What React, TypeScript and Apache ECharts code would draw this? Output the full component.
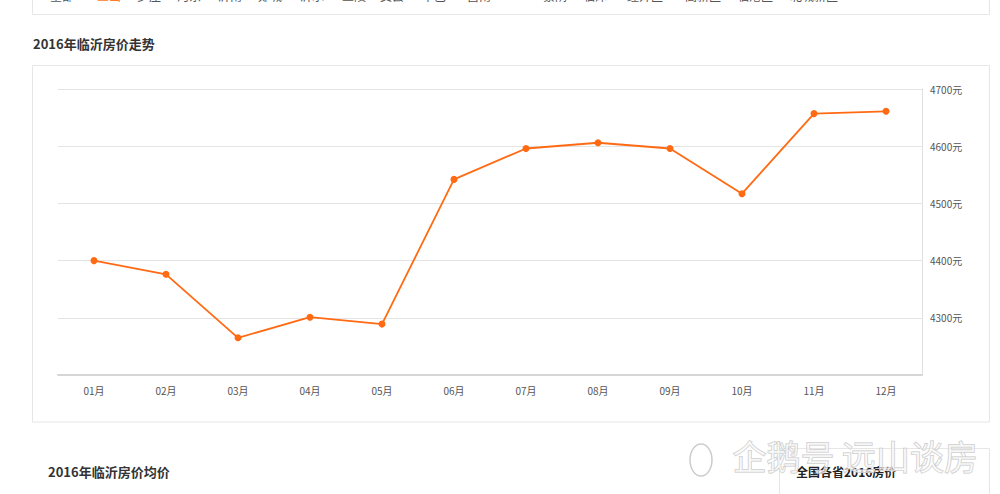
import React, { useEffect, useRef } from "react";
import * as echarts from "echarts";

const months = ["01月", "02月", "03月", "04月", "05月", "06月", "07月", "08月", "09月", "10月", "11月", "12月"];
const prices = [4400, 4376, 4265, 4301, 4289, 4542, 4596, 4606, 4596, 4517, 4657, 4661];
const yMin = 4200;
const yMax = 4700;
const yStep = 100;
const chartTitle = "2016年临沂房价走势";
const bottomTitle = "2016年临沂房价均价";
const sideTitle = "全国各省2016房价";
const watermark = "企鹅号 远山谈房";
const districts = ["全部", "兰山", "罗庄", "河东", "沂南", "郯城", "沂水", "兰陵", "费县", "平邑", "莒南", "蒙阴", "临沭", "经开区", "高新区", "临港区", "北城新区"];
const districtX = [50, 97, 137, 177, 218, 258, 300, 342, 380, 422, 467, 543, 583, 627, 685, 737, 790];

export default function App() {
  const ref = useRef<HTMLDivElement>(null);
  useEffect(() => {
    if (!ref.current) return;
    const chart = echarts.init(ref.current, null, { renderer: "svg" });
    const districtTexts = districts.map((d, i) => ({
      type: "text",
      left: districtX[i],
      top: -11,
      silent: true,
      style: {
        text: d,
        fontSize: 12,
        fill: i === 1 ? "#ff7a2a" : "#555",
        fontFamily: "Noto Sans CJK SC",
      },
    }));
    chart.setOption({
      animation: false,
      backgroundColor: "#ffffff",
      graphic: [
        {
          type: "rect",
          shape: { x: 32.5, y: -20, width: 957, height: 34.5 },
          style: { fill: "#fff", stroke: "#e6e6e6", lineWidth: 1 },
          silent: true,
        },
        ...districtTexts,
        {
          type: "text",
          left: 33,
          top: 37,
          style: { text: chartTitle, fontSize: 13, fontWeight: "bold", fill: "#333", fontFamily: "Noto Sans CJK SC" },
        },
        {
          type: "rect",
          z: -10,
          shape: { x: 32.5, y: 65.5, width: 957, height: 356.5 },
          style: { fill: "#fff", stroke: "#e6e6e6", lineWidth: 1 },
          silent: true,
        },
        {
          type: "text",
          left: 48,
          top: 465,
          style: { text: bottomTitle, fontSize: 13, fontWeight: "bold", fill: "#333", fontFamily: "Noto Sans CJK SC" },
        },
        {
          type: "rect",
          shape: { x: 779.5, y: 448.5, width: 210, height: 60 },
          style: { fill: "#fff", stroke: "#e6e6e6", lineWidth: 1 },
          silent: true,
        },
        {
          type: "text",
          left: 796,
          top: 465,
          z: 5,
          style: { text: sideTitle, fontSize: 12, fontWeight: "bold", fill: "#222", fontFamily: "Noto Sans CJK SC" },
        },
        {
          type: "ellipse",
          z: 10,
          shape: { cx: 701, cy: 460, rx: 11, ry: 16 },
          style: { fill: "rgba(255,255,255,0.3)", stroke: "#cccccc", lineWidth: 1.5 },
          silent: true,
        },
        {
          type: "text",
          left: 732,
          top: 438,
          z: 10,
          style: {
            text: watermark,
            fontSize: 34,
            fill: "rgba(252,252,252,0.6)",
            stroke: "#c6c6c6",
            lineWidth: 1,
            fontFamily: "Noto Sans CJK SC",
          },
        },
      ],
      grid: { left: 58, right: 78, top: 89, bottom: 119, containLabel: false },
      xAxis: {
        type: "category",
        data: months,
        boundaryGap: true,
        axisLine: { lineStyle: { color: "#d6d6d6", width: 2 } },
        axisTick: { alignWithLabel: true, length: 4, lineStyle: { color: "#d6d6d6" } },
        axisLabel: { color: "#555", fontSize: 10, margin: 10, fontFamily: "Noto Sans CJK SC" },
      },
      yAxis: {
        type: "value",
        position: "right",
        min: yMin,
        max: yMax,
        interval: yStep,
        axisLine: { show: true, lineStyle: { color: "#e0e0e0" } },
        axisTick: { show: false },
        splitLine: { lineStyle: { color: "#e4e4e4" } },
        axisLabel: {
          color: "#555",
          fontSize: 10,
          margin: 8,
          showMinLabel: false,
          fontFamily: "Noto Sans CJK SC",
          formatter: (v: number) => (v === yMin ? "" : v + "元"),
        },
      },
      series: [
        {
          type: "line",
          data: prices,
          symbol: "circle",
          symbolSize: 7,
          itemStyle: { color: "#ff6a13" },
          lineStyle: { color: "#ff6a13", width: 1.8 },
        },
      ],
    });
    return () => chart.dispose();
  }, []);
  return <div ref={ref} style={{ position: "absolute", left: 0, top: 0, width: 1000, height: 494 }} />;
}
